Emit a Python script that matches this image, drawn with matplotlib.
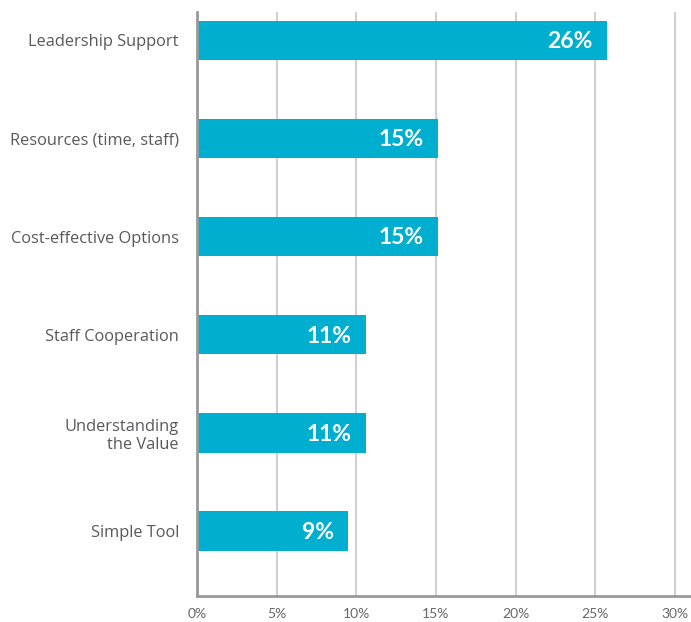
import numpy as np
import matplotlib.pyplot as plt

categories = ['Leadership Support', 'Resources (time, staff)', 'Cost-effective Options',
              'Staff Cooperation', 'Understanding\nthe Value', 'Simple Tool']
values = [25.7, 15.1, 15.1, 10.6, 10.6, 9.45]
labels = ['26%', '15%', '15%', '11%', '11%', '9%']
xticks = [0, 5, 10, 15, 20, 25, 30]

plt.rcParams['font.family'] = ['Lato', 'DejaVu Sans']

fig = plt.figure(figsize=(6.91, 6.22), dpi=100)
ax = fig.add_axes([0.285, 0.042, 0.715, 0.939])

y = np.arange(len(categories))
ax.barh(y, values, height=0.4, color='#00aecf', zorder=3)

for yi, v, lab in zip(y, values, labels):
    ax.annotate(lab, (v, yi), xytext=(-10, -1), textcoords='offset points',
                ha='right', va='center', color='white', fontsize=16.5,
                fontweight='bold', zorder=4)

ax.set_xlim(0, 31)
ax.set_ylim(5.66, -0.29)
ax.set_xticks(xticks)
ax.set_xticklabels([f'{t}%' for t in xticks], color='#666666', fontsize=10)
ax.set_yticks(y)
ax.set_yticklabels(categories, color='#58595b', fontsize=11.8, linespacing=1.15,
                   family=['Open Sans', 'DejaVu Sans'])
ax.tick_params(axis='both', length=0)
ax.tick_params(axis='x', pad=9)
ax.tick_params(axis='y', pad=13)

ax.grid(axis='x', color='#d0d0d0', linewidth=1.5, zorder=0)
for s in ['top', 'right']:
    ax.spines[s].set_visible(False)
for s in ['left', 'bottom']:
    ax.spines[s].set_color('#999999')
    ax.spines[s].set_linewidth(2)
    ax.spines[s].set_zorder(5)

fig.savefig('out.png', dpi=100)
